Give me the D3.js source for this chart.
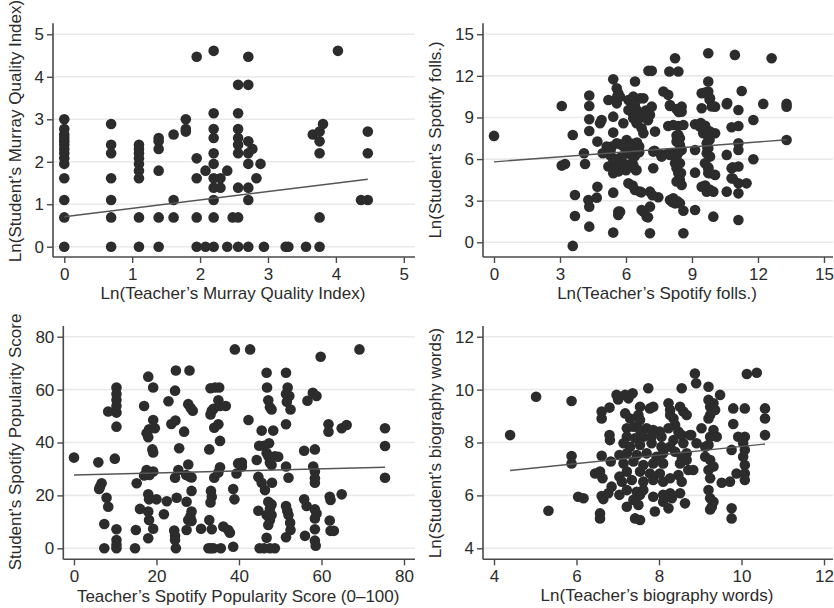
<!DOCTYPE html>
<html><head><meta charset="utf-8">
<script src="https://cdn.jsdelivr.net/npm/d3@7"></script>
<style>
html,body{margin:0;padding:0;background:#fff;}
svg text{font-family:"Liberation Sans",Arial,Helvetica,sans-serif;fill:#2b2b2b;}
</style></head>
<body><svg id="chart" width="834" height="608"></svg>
<script>
// ---------- DATA ----------
const murrayXTicks = [0,1,2,3,4,5];
const murrayYTicks = [0,1,2,3,4,5];
const follXTicks = [0,3,6,9,12,15];
const follYTicks = [0,3,6,9,12,15];
const popXTicks = [0,20,40,60,80];
const popYTicks = [0,20,40,60,80];
const bioXTicks = [4,6,8,10,12];
const bioYTicks = [4,6,8,10,12];

const murrayXTitle = "Ln(Teacher’s Murray Quality Index)";
const murrayYTitle = "Ln(Student’s Murray Quality Index)";
const follXTitle = "Ln(Teacher’s Spotify folls.)";
const follYTitle = "Ln(Student’s Spotify folls.)";
const popXTitle = "Teacher’s Spotify Popularity Score (0–100)";
const popYTitle = "Student’s Spotify Popularity Score";
const bioXTitle = "Ln(Teacher’s biography words)";
const bioYTitle = "Ln(Student’s biography words)";

// linear fits: [intercept, slope, xStart, xEnd]
const murrayFit = [0.707, 0.197, 0, 4.47];
const follFit = [5.80, 0.120, 0, 13.3];
const popFit = [27.7, 0.039, 0, 75.4];
const bioFit = [6.23, 0.162, 4.39, 10.57];

const murrayPoints = [
[0,3.0],[0,2.77],[0,2.64],[0,2.56],[0,2.48],[0,2.40],[0,2.30],[0,2.20],[0,2.08],[0,1.95],[0,1.61],[0,1.10],[0,0.69],[0,0],
[0.69,2.89],[0.69,2.40],[0.69,2.20],[0.69,1.61],[0.69,1.10],[0.69,0.69],[0.69,0],
[1.10,2.40],[1.10,2.30],[1.10,2.20],[1.10,2.08],[1.10,1.95],[1.10,1.79],[1.10,1.61],[1.10,0.69],[1.10,0],
[1.39,2.56],[1.39,2.48],[1.39,2.30],[1.39,1.79],[1.39,0.69],[1.39,0],
[1.61,2.64],[1.61,1.10],[1.61,0.69],
[1.79,3.0],[1.79,2.77],[1.79,2.71],
[1.95,4.47],[1.95,2.08],[1.95,1.61],[1.95,0.69],[1.95,0],
[2.08,1.79],[2.08,0],
[2.20,4.61],[2.20,3.14],[2.20,2.77],[2.20,2.56],[2.20,2.20],[2.20,1.95],[2.20,1.61],[2.20,1.39],[2.20,1.10],[2.20,0.69],[2.20,0],
[2.30,1.61],[2.30,1.39],[2.40,1.79],[2.40,0],[2.48,0.69],
[2.56,3.81],[2.56,3.14],[2.56,2.77],[2.56,2.56],[2.56,2.40],[2.56,2.20],[2.56,1.39],[2.56,0.69],[2.56,0],
[2.71,4.47],[2.71,3.81],[2.71,2.48],[2.71,2.20],[2.71,1.95],[2.71,1.39],[2.71,1.10],[2.71,0],
[2.77,2.30],[2.83,1.61],[2.89,1.95],[2.94,0],[3.26,0],[3.30,0],[3.56,0],
[3.66,2.64],[3.76,2.71],[3.76,2.48],[3.76,2.20],[3.76,0.69],[3.76,0],[3.81,2.89],
[4.03,4.61],[4.37,1.10],[4.47,2.71],[4.47,2.20],[4.47,1.10]
];

const follPoints = [
[0,7.67],[3.08,9.83],[3.08,5.53],[3.23,5.65],[3.58,7.74],[3.68,3.41],[3.68,1.90],[3.58,-0.26],
[4.09,6.42],[4.14,5.65],[4.33,10.58],[4.33,9.83],[4.33,8.87],[4.33,8.03],[4.29,3.05],[4.33,2.57],[4.33,1.13],
[4.67,3.22],[4.70,4.01],[4.70,7.26],[4.82,8.58],[4.89,8.82],[4.94,6.42],[5.20,10.26],[5.42,11.75],
[5.42,9.06],[5.42,7.91],[5.35,6.90],[5.58,7.14],[5.27,6.30],[5.42,5.94],[5.50,5.46],[5.42,4.98],[5.65,5.10],
[5.42,3.58],[5.65,2.21],[5.65,1.97],[5.42,0.70],[5.58,11.10],[5.65,10.75],[5.58,10.02],
[5.12,6.90],[5.20,5.46],
[5.73,10.50],[5.88,8.58],[6.11,10.26],[6.11,9.54],[6.03,7.38],[5.73,7.07],[5.80,6.18],[6.11,5.58],[6.11,4.25],[5.73,2.21],[5.88,5.70],
[9.74,13.63],[10.95,13.51],[12.62,13.27],[8.23,13.27],[7.02,12.36],[7.17,12.36],[7.97,12.31],[8.38,12.31],
[6.41,11.59],[9.74,11.59],[9.44,10.75],[9.74,10.87],[9.82,10.38],[11.26,10.91],[7.70,10.87],[7.92,10.63],
[6.33,10.50],[6.64,10.38],[6.79,10.38],[6.33,10.02],[6.41,9.78],[6.33,9.42],[8.0,9.83],[8.53,9.78],[8.53,9.42],
[9.44,9.66],[10.05,9.78],[10.58,9.95],[11.11,9.54],[12.24,9.98],[13.30,9.98],[13.30,9.78],[7.17,9.78],[7.09,9.18],
[6.79,9.30],[6.33,8.94],[6.48,8.58],[11.79,8.82],[7.92,8.39],[8.15,8.46],[8.38,8.39],[8.61,8.46],[9.14,8.51],
[9.36,8.34],[9.59,8.22],[9.74,7.98],[10.80,8.29],[11.11,8.39],[7.32,7.98],[6.71,8.22],[6.79,7.86],[8.38,7.74],
[8.45,7.50],[9.51,7.86],[10.05,7.86],[9.74,7.62],[8.30,7.26],[8.45,7.02],[8.53,6.66],[9.67,7.14],[9.74,6.78],
[9.67,6.42],[9.82,6.18],[9.14,6.66],[6.26,7.02],[6.33,6.78],[6.56,6.78],[7.24,6.54],[7.62,6.18],[8.0,6.30],
[8.15,6.42],[8.30,6.18],[10.58,6.30],[11.11,6.66],[11.11,7.14],[11.79,5.99],[13.30,7.38],[6.33,5.58],[6.48,5.22],
[7.24,5.34],[8.23,5.70],[8.30,5.34],[8.38,4.98],[8.45,4.50],[8.53,4.13],[8.30,4.38],[9.14,5.02],[9.59,5.70],
[9.74,5.34],[9.82,4.98],[10.05,4.86],[10.80,5.34],[11.11,5.46],[10.80,4.62],[11.11,4.25],[11.48,4.25],
[6.41,3.77],[6.64,3.65],[7.09,3.65],[7.47,3.25],[9.44,4.01],[9.67,3.65],[9.97,3.65],[10.58,3.65],[11.11,3.53],
[8.0,3.05],[8.15,3.17],[8.23,2.81],[8.45,2.81],[8.61,2.28],[9.14,2.33],[6.71,2.33],[7.09,2.57],[6.94,1.85],
[9.97,1.85],[11.11,1.61],[7.09,0.65],[8.61,0.65],
[5.90,6.90],[6.20,6.60],[6.50,7.20],[6.00,5.20],[6.30,6.20],
[6.2,10.2],[6.4,9.9],[6.5,9.5],[6.3,9.3],[6.7,9.0],[6.9,9.5],[7.0,8.8],[6.0,7.0],[6.3,7.1],[6.6,6.9],
[6.1,6.4],[6.4,6.2],[6.6,6.5],[6.45,5.2],[6.3,4.1],[6.7,3.6],[7.2,3.4],[6.8,2.2],[7.0,1.8],[7.3,6.6],
[7.6,6.3],[7.9,6.4],[8.3,7.7],[8.4,7.3],[8.4,6.5],[8.45,5.7],[8.5,5.0],[8.1,2.9],[8.35,2.95],[8.0,9.9],
[8.3,9.6],[8.4,9.4],[9.4,8.6],[9.6,8.4],[9.8,8.0],[9.8,7.4],[9.7,6.8],[9.6,4.1],[9.8,3.8],[9.6,10.8],
[9.8,10.3],[9.9,9.8],[10.6,10.04],[10.85,5.4],[10.85,4.6],[9.74,5.4],[9.74,5.0],[5.3,6.6],[5.5,6.0],[5.4,5.3],[5.6,10.5]
];

const popPoints = [
[0,34.3],[5.9,32.5],[6.3,23.3],[6.7,24.6],[6.1,22.4],[7.35,9.2],[7.9,19.1],[8.3,15.7],[7.35,0],[8.3,51.7],
[10.3,51.3],[10.3,60.8],[10.3,58.3],[10.3,56.1],[10.3,53.8],[10.3,46.0],[9.9,33.9],[10.3,7.2],[10.3,3.1],[10.3,1.3],[10.3,0],
[14.8,0],[15.0,6.9],[15.2,24.6],[16.0,14.9],[17.0,53.8],[17.0,27.5],[18.0,64.9],[19.2,60.8],[17.6,43.5],[18.0,42.0],[18.2,45.0],
[19.2,48.5],[19.6,45.4],[19.0,37.4],[19.2,36.2],[17.6,29.6],[18.3,27.7],[19.2,29.0],[18.0,20.4],[18.2,18.5],[20.0,18.5],
[18.0,13.9],[18.2,10.7],[19.2,7.4],[18.0,3.8],[22.5,17.8],[21.8,12.9],[22.9,55.6],[24.7,67.2],[28.0,67.2],[24.5,59.6],
[23.6,47.0],[24.6,48.3],[25.5,37.8],[24.5,26.7],[25.3,29.6],[24.9,19.1],[24.3,6.7],[24.5,4.7],[24.5,3.1],[24.7,0],
[26.7,44.1],[27.7,54.5],[28.8,52.0],[28.3,53.0],[27.7,31.7],[27.2,27.7],[28.0,27.1],[28.5,26.8],[28.5,21.7],[27.3,17.6],
[28.2,12.0],[28.5,13.9],[27.7,10.7],[28.5,10.3],[27.3,6.9],[30.8,7.4],[32.8,37.4],[33.1,60.5],[34.2,60.8],[35.2,60.8],
[33.4,52.0],[33.1,50.6],[33.8,52.7],[35.0,56.0],[35.4,53.8],[36.8,53.8],[34.0,45.6],[35.0,46.9],[35.4,40.6],[34.0,26.7],
[35.0,28.7],[35.4,30.6],[33.2,21.7],[33.4,19.5],[33.1,17.3],[32.8,10.7],[33.4,7.2],[32.6,0],[33.2,0],[33.8,0],[35.6,0],
[36.2,8.2],[37.4,6.9],[37.8,5.9],[38.6,0.6],[38.6,22.4],[38.9,18.5],[39.8,32.1],[39.4,28.3],[39.0,75.2],
[42.7,75.2],[42.3,48.5],[40.7,32.4],[40.7,30.9],[44.3,33.4],[45.5,44.5],[48.3,44.5],[44.9,38.8],[46.1,38.8],[47.3,39.7],
[46.7,36.0],[47.1,34.8],[47.5,32.4],[47.9,31.5],[48.7,34.8],[46.7,66.4],[46.8,60.8],[47.1,56.0],[47.5,53.3],[47.9,52.5],
[49.5,34.6],[44.7,27.0],[45.5,24.8],[46.3,22.0],[48.0,24.8],[47.1,17.6],[47.5,15.0],[47.9,16.6],[44.7,14.2],[46.7,12.6],
[47.5,10.7],[47.9,12.6],[47.1,8.8],[46.7,4.0],[45.0,0],[46.1,0],[47.5,0],[48.7,0],[51.4,66.4],[51.8,60.8],[51.4,58.3],
[52.2,57.6],[51.6,55.4],[52.5,52.5],[51.4,46.9],[51.4,30.9],[52.0,26.7],[51.4,16.0],[51.7,14.2],[52.0,12.6],[52.4,9.7],
[52.5,6.9],[51.4,4.2],[56.6,55.8],[57.9,58.8],[58.8,57.6],[55.8,36.9],[58.4,37.4],[58.0,30.9],[58.4,29.0],[58.4,26.5],
[58.4,24.8],[55.8,18.5],[56.4,16.0],[58.4,14.7],[58.8,13.2],[58.4,11.3],[56.0,4.7],[58.4,7.2],[58.4,2.9],[58.6,1.0],
[59.8,72.4],[61.7,46.9],[61.7,44.1],[64.9,45.4],[66.1,46.6],[62.0,19.5],[62.2,18.3],[64.9,20.4],[62.0,10.5],[62.2,6.6],
[63.0,6.6],[75.4,45.4],[75.4,38.7],[75.4,26.7],[69.2,75.2]
];

const bioPoints = [
[4.39,8.28],[5.02,9.73],[5.32,5.42],[5.88,9.57],[5.88,7.49],[5.88,7.21],[6.04,5.95],[6.17,5.89],[6.61,9.17],[6.80,9.32],
[6.61,8.91],[6.61,7.50],[6.45,6.83],[6.57,6.90],[6.63,6.65],[6.61,5.98],[6.65,5.86],[6.57,5.32],[6.57,5.13],[6.80,8.28],
[6.81,8.09],[6.83,7.28],[6.85,6.33],[6.77,6.08],[7.04,7.53],[7.04,6.71],[7.04,6.02],[6.97,9.80],[7.01,9.63],
[8.87,10.61],[8.90,10.24],[10.13,10.59],[10.37,10.64],[7.74,10.05],[8.55,10.05],[9.48,9.80],[7.18,9.80],[7.26,9.67],[7.36,9.86],
[9.20,9.61],[9.32,9.48],[9.24,9.35],[9.36,9.23],[7.54,9.35],[7.78,9.29],[7.86,9.35],[8.23,9.48],[8.27,9.23],[8.51,9.35],
[8.59,9.17],[9.80,9.29],[10.08,9.29],[10.57,9.29],[10.57,8.91],[10.57,8.28],[9.80,8.70],[9.20,8.91],[9.24,9.04],[7.50,9.04],
[7.54,8.85],[7.18,9.10],[7.30,8.91],[8.27,9.04],[8.35,8.91],[8.39,8.66],[8.23,8.54],[8.67,9.04],
[7.22,8.54],[7.38,8.60],[7.54,8.47],[7.70,8.54],[7.86,8.47],[8.02,8.41],[7.22,8.22],[7.42,8.16],[7.62,8.22],[7.82,8.22],
[8.06,8.22],[7.14,7.97],[7.30,7.84],[7.54,7.91],[7.82,7.97],[8.06,7.84],[7.22,7.59],[7.46,7.53],[7.70,7.59],[7.94,7.46],
[8.10,7.59],[8.47,8.41],[8.55,8.28],[8.75,8.28],[8.35,8.09],[8.59,7.97],[8.27,7.84],[9.03,8.54],[9.32,8.47],[9.24,8.22],
[9.12,7.84],[9.20,7.91],[9.40,8.22],[9.76,7.72],[9.92,8.22],[10.08,8.22],[10.04,7.97],[10.08,7.72],[10.04,7.46],[8.91,7.97],
[8.78,8.28],[8.39,7.65],[8.55,7.46],[8.67,7.59],[7.14,7.21],[7.38,7.28],[7.62,7.15],[7.86,7.21],[8.10,7.21],[7.22,6.90],
[7.54,6.90],[7.78,6.83],[8.02,6.83],[7.10,6.52],[7.34,6.58],[7.62,6.52],[7.86,6.58],[8.10,6.52],[8.27,6.65],[8.47,6.77],
[8.55,6.52],[8.71,6.96],[8.83,6.96],[8.67,7.34],[8.51,7.21],[9.12,7.46],[9.24,7.34],[9.32,7.09],[9.20,6.96],[9.24,6.65],
[9.20,6.20],[9.52,6.48],[9.72,6.52],[9.88,6.83],[10.08,7.15],[10.08,6.83],[10.08,6.58],[7.22,6.20],[7.46,6.14],[7.62,6.20],
[7.86,5.95],[8.10,6.02],[8.27,6.08],[8.31,5.89],[8.10,5.76],[7.38,5.83],[7.54,6.02],[7.22,5.57],[7.50,5.64],[7.90,5.39],
[8.23,5.51],[8.63,5.70],[8.51,6.08],[7.42,5.13],[7.54,5.07],[9.24,5.89],[9.32,5.76],[9.28,5.57],[9.24,5.47],[9.76,5.51],
[9.76,5.13],[9.20,10.11]
];

// ---------- LAYOUT ----------
const panels = [
  {pts: murrayPoints, fit: murrayFit, xt: murrayXTicks, yt: murrayYTicks, xTitle: murrayXTitle, yTitle: murrayYTitle,
   x0:53, x1:415, y0:23.3, y1:257, xDom:[-0.166,5.165], yDom:[-0.242,5.259], ytY:131, ytX:21, xtY:299},
  {pts: follPoints, fit: follFit, xt: follXTicks, yt: follYTicks, xTitle: follXTitle, yTitle: follYTitle,
   x0:483, x1:833, y0:23.3, y1:257, xDom:[-0.5,15.41], yDom:[-1.06,15.79], ytY:140, ytX:441, xtY:299},
  {pts: popPoints, fit: popFit, xt: popXTicks, yt: popYTicks, xTitle: popXTitle, yTitle: popYTitle,
   x0:63.3, x1:415, y0:326, y1:559.3, xDom:[-2.59,82.67], yDom:[-4.16,84.05], ytY:442, ytX:21, xtY:602},
  {pts: bioPoints, fit: bioFit, xt: bioXTicks, yt: bioYTicks, xTitle: bioXTitle, yTitle: bioYTitle,
   x0:483, x1:833, y0:326, y1:559.3, xDom:[3.733,12.218], yDom:[3.584,12.405], ytY:443, ytX:441, xtY:601}
];

const svg = d3.select("#chart");
svg.append("rect").attr("width",834).attr("height",608).attr("fill","#fff");

panels.forEach(p => {
  const g = svg.append("g");
  const x = d3.scaleLinear().domain(p.xDom).range([p.x0, p.x1]);
  const y = d3.scaleLinear().domain(p.yDom).range([p.y1, p.y0]);

  g.selectAll("line.grid").data(p.yt).enter().append("line")
    .attr("x1", p.x0).attr("x2", p.x1)
    .attr("y1", d => y(d)).attr("y2", d => y(d))
    .attr("stroke", "#e9e9e9").attr("stroke-width", 1.6);

  const yAxis = d3.axisLeft(y).tickValues(p.yt).tickSize(6).tickPadding(3).tickFormat(d3.format("d"));
  const xAxis = d3.axisBottom(x).tickValues(p.xt).tickSize(6).tickPadding(5).tickFormat(d3.format("d"));
  const ya = g.append("g").attr("transform", `translate(${p.x0},0)`).call(yAxis);
  const xa = g.append("g").attr("transform", `translate(0,${p.y1})`).call(xAxis);
  [ya, xa].forEach(a => {
    a.select(".domain").remove();
    a.selectAll(".tick line").attr("stroke", "#4a4a4a").attr("stroke-width", 1.4);
    a.selectAll(".tick text").attr("font-size", 17).style("fill", "#2b2b2b")
      .attr("font-family", '"Liberation Sans", Arial, sans-serif');
  });
  g.append("line").attr("x1", p.x0).attr("x2", p.x0).attr("y1", p.y0).attr("y2", p.y1)
    .attr("stroke", "#4a4a4a").attr("stroke-width", 1.6);
  g.append("line").attr("x1", p.x0).attr("x2", p.x1).attr("y1", p.y1).attr("y2", p.y1)
    .attr("stroke", "#4a4a4a").attr("stroke-width", 1.6);

  g.selectAll("circle").data(p.pts).enter().append("circle")
    .attr("cx", d => x(d[0])).attr("cy", d => y(d[1])).attr("r", 5.3)
    .attr("fill", "#2c2c2c");

  const [b0, b1, xs, xe] = p.fit;
  g.append("line").attr("x1", x(xs)).attr("y1", y(b0 + b1 * xs))
    .attr("x2", x(xe)).attr("y2", y(b0 + b1 * xe))
    .attr("stroke", "#555").attr("stroke-width", 1.4);

  g.append("text").attr("x", (p.x0 + p.x1) / 2 - 1).attr("y", p.xtY)
    .attr("text-anchor", "middle").attr("font-size", 17).text(p.xTitle);
  g.append("text").attr("transform", `translate(${p.ytX},${p.ytY}) rotate(-90)`)
    .attr("text-anchor", "middle").attr("font-size", 17).text(p.yTitle);
});
</script></body></html>
